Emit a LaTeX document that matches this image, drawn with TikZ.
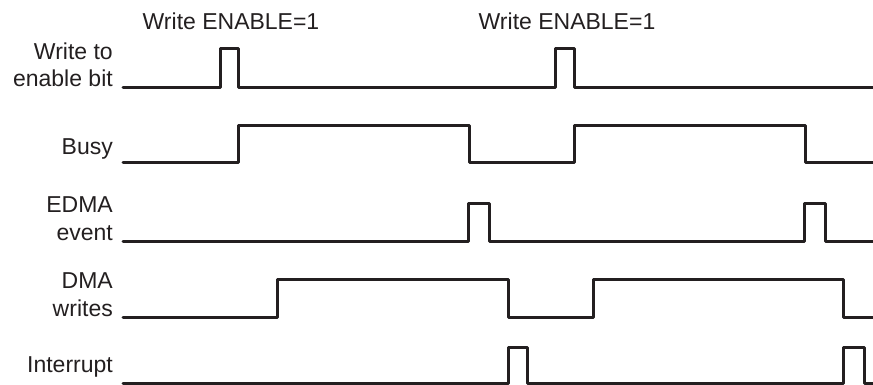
\documentclass[tikz,border=0pt]{standalone}
\usepackage{fontspec}
\setmainfont{Liberation Sans}
\usepackage{tikz}
\usetikzlibrary{positioning,calc}
\definecolor{ink}{HTML}{231F20}
\tikzset{
  every node/.style={font=\fontsize{23}{27.6}\selectfont, text=ink},
  % --- labels
  sig/.style   = {anchor=base east, align=right, inner sep=0pt},
  evt/.style   = {anchor=base, inner sep=0pt},
  % --- waveforms
  wave/.style  = {draw=ink, line width=3pt, line join=round, line cap=round},
}
\begin{document}
\begin{tikzpicture}[x=1pt,y=-1pt]
  \useasboundingbox (0,0) rectangle (873,385);
  % event labels
  \node[evt] (wen1) at (231,30) {Write ENABLE=1};
  \node[evt] (wen2) at (567,30) {Write ENABLE=1};
  % signal names
  \node[sig] (lwrite) at (113,87)  {Write to\\enable bit};
  \node[sig] (lbusy)  at (113,155) {Busy};
  \node[sig] (ledma)  at (113,240) {EDMA\\event};
  \node[sig] (ldma)   at (113,316) {DMA\\writes};
  \node[sig] (lint)   at (113,372) {Interrupt};
  % write to enable bit
  \draw[wave] (123,87.5) -- (220,87.5) -- (220,49) -- (238.5,49) -- (238.5,87.5)
    -- (555,87.5) -- (555,49) -- (574,49) -- (574,87.5) -- (880,87.5);
  % busy
  \draw[wave] (123,163) -- (238,163) -- (238,126) -- (469,126) -- (469,163)
    -- (574,163) -- (574,126) -- (805,126) -- (805,163) -- (880,163);
  % edma event
  \draw[wave] (123,241) -- (468,241) -- (468,203) -- (489,203) -- (489,241)
    -- (804,241) -- (804,203) -- (825,203) -- (825,241) -- (880,241);
  % dma writes
  \draw[wave] (123,317.5) -- (277,317.5) -- (277,279.5) -- (508,279.5) -- (508,317.5)
    -- (593,317.5) -- (593,279.5) -- (843,279.5) -- (843,317.5) -- (880,317.5);
  % interrupt
  \draw[wave] (123,383) -- (508,383) -- (508,347) -- (527,347) -- (527,383)
    -- (843,383) -- (843,347) -- (864,347) -- (864,383) -- (880,383);
\end{tikzpicture}
\end{document}
